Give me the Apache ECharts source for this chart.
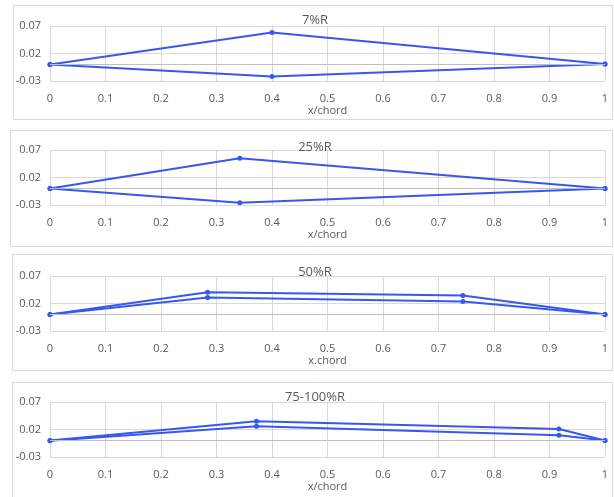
<!DOCTYPE html>
<html>
<head>
<meta charset="utf-8">
<script src="https://cdn.jsdelivr.net/npm/echarts@6/dist/echarts.min.js"></script>
<style>
  html, body { margin: 0; padding: 0; background: #fff; }
  #chart { width: 614px; height: 497px; }
</style>
</head>
<body>
<div id="chart"></div>
<script>
  // section titles and axis names
  var titles = ['7%R', '25%R', '50%R', '75-100%R']
  var axisNames = ['x/chord', 'x/chord', 'x.chord', 'x/chord']

  // x/chord positions and the two surfaces of each section
  var x7 = [0, 0.4, 1]
  var upper7 = [0, 0.058, 0.001]
  var lower7 = [0, -0.022, 0.001]

  var x25 = [0, 0.342, 1]
  var upper25 = [0, 0.055, 0]
  var lower25 = [0, -0.026, 0]

  var x50 = [0, 0.284, 0.744, 1]
  var upper50 = [0, 0.0405, 0.0345, 0]
  var lower50 = [0, 0.031, 0.0238, 0]

  var x75 = [0, 0.372, 0.917, 1]
  var upper75 = [0, 0.0352, 0.0208, 0]
  var lower75 = [-0.0005, 0.0257, 0.0096, 0]

  var yMin = -0.03
  var yMax = 0.07
  var yStep = 0.05

  var panels = [
    { x: x7, a: upper7, b: lower7 },
    { x: x25, a: upper25, b: lower25 },
    { x: x50, a: upper50, b: lower50 },
    { x: x75, a: upper75, b: lower75 }
  ]

  // layout of the four boxes
  var gridTops = [26, 150, 276, 402]
  var titleTops = [9, 136, 261, 386]
  var boxes = [[13, 5, 599, 114], [10, 130, 602, 116], [12, 254, 600, 116], [12, 382, 600, 130]]

  var blue = '#3857f0'
  var grey = '#595959'

  function pairs (xs, ys) {
    return xs.map(function (v, i) { return [v, ys[i]] })
  }

  var option = {
    animation: false,
    textStyle: { fontFamily: 'Open Sans, sans-serif' },
    title: [],
    grid: [],
    xAxis: [],
    yAxis: [],
    series: [],
    graphic: []
  }

  boxes.forEach(function (b) {
    option.graphic.push({
      type: 'rect',
      shape: { x: b[0] + 0.5, y: b[1] + 0.5, width: b[2], height: b[3] },
      style: { fill: 'none', stroke: '#d9d9d9', lineWidth: 1 },
      silent: true,
      z: -1
    })
  })

  panels.forEach(function (p, i) {
    option.title.push({
      text: titles[i],
      left: 310,
      top: titleTops[i],
      textAlign: 'center',
      textStyle: { fontSize: 13, fontWeight: 'normal', color: grey, fontFamily: 'Open Sans, sans-serif' }
    })
    option.grid.push({ left: 50, right: 9, top: gridTops[i], height: 55 })
    option.xAxis.push({
      type: 'value',
      gridIndex: i,
      min: 0,
      max: 1,
      interval: 0.1,
      name: axisNames[i],
      nameLocation: 'middle',
      nameGap: 22,
      nameTextStyle: { fontSize: 11, color: grey },
      axisLine: { show: false },
      axisTick: { show: false },
      axisLabel: {
        fontSize: 11,
        color: grey,
        margin: 12,
        formatter: function (v) { return String(+v.toFixed(1)) }
      },
      splitLine: { show: true, lineStyle: { color: '#d9d9d9', width: 1 } }
    })
    option.yAxis.push({
      type: 'value',
      gridIndex: i,
      min: yMin,
      max: yMax,
      interval: yStep,
      axisLine: { show: false },
      axisTick: { show: false },
      axisLabel: {
        fontSize: 11,
        color: grey,
        margin: 9,
        formatter: function (v) { return v.toFixed(2) }
      },
      splitLine: { show: true, lineStyle: { color: '#d9d9d9', width: 1 } }
    })
    option.series.push({
      type: 'line',
      xAxisIndex: i,
      yAxisIndex: i,
      data: pairs(p.x, p.a),
      symbol: 'circle',
      symbolSize: 5,
      lineStyle: { color: blue, width: 2 },
      itemStyle: { color: blue },
      markLine: {
        silent: true,
        symbol: 'none',
        label: { show: false },
        lineStyle: { color: '#bfbfbf', type: 'solid', width: 1 },
        data: [{ yAxis: 0 }]
      },
      z: 3
    })
    option.series.push({
      type: 'line',
      xAxisIndex: i,
      yAxisIndex: i,
      data: pairs(p.x, p.b),
      symbol: 'circle',
      symbolSize: 5,
      lineStyle: { color: blue, width: 2 },
      itemStyle: { color: blue },
      z: 3
    })
  })

  var myChart = echarts.init(document.getElementById('chart'))
  myChart.setOption(option)
</script>
</body>
</html>
